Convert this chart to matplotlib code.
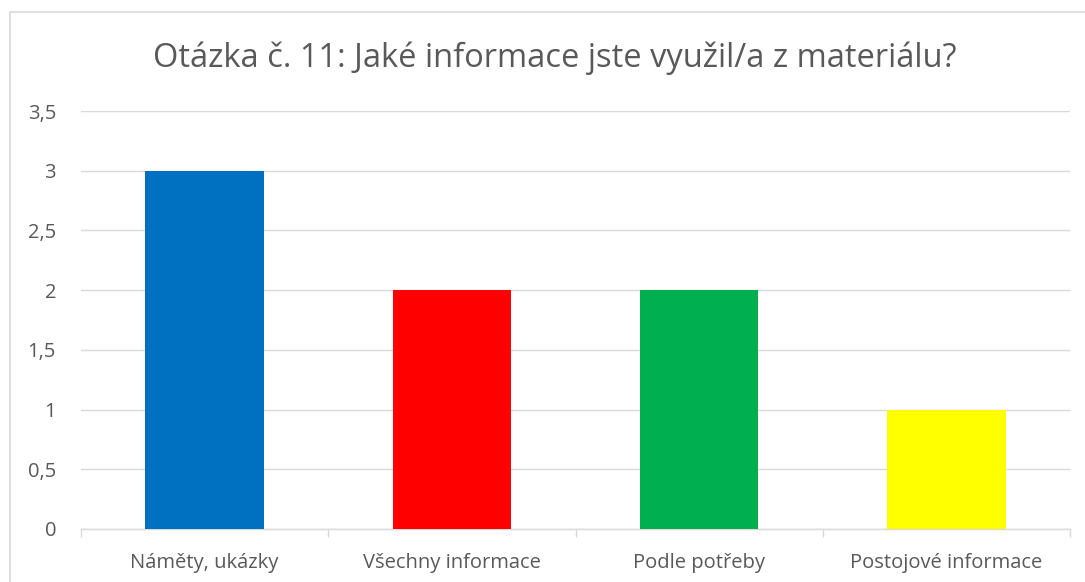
import matplotlib
matplotlib.use("Agg")
import matplotlib.pyplot as plt
from matplotlib.patches import Rectangle
import matplotlib.ticker as mtick

categories = ["Náměty, ukázky", "Všechny informace", "Podle potřeby", "Postojové informace"]
values = [3, 2, 2, 1]
colors = ["#0070C0", "#FF0000", "#00B050", "#FFFF00"]
yticks = [0, 0.5, 1, 1.5, 2, 2.5, 3, 3.5]

plt.rcParams['font.family'] = ['Open Sans', 'DejaVu Sans']

fig = plt.figure(figsize=(10.85, 5.82), dpi=100)
# chart border (right and bottom edges fall outside the image)
fig.patches.append(Rectangle((10 / 1085, -0.01), 1.0, 1 - 12 / 582 + 0.01, transform=fig.transFigure,
                             fill=False, edgecolor="#D9D9D9", linewidth=1.2))

ax = fig.add_axes([81 / 1085, 1 - 529 / 582, (1070 - 81) / 1085, (529 - 111) / 582])
x = range(len(categories))
ax.bar(x, values, width=0.48, color=colors, zorder=3)

ax.set_xlim(-0.5, len(categories) - 0.5)
ax.set_ylim(0, 3.5)
ax.set_yticks(yticks)
ax.yaxis.set_major_formatter(mtick.FuncFormatter(lambda v, p: ("%g" % v).replace(".", ",")))
ax.grid(axis="y", color="#D9D9D9", linewidth=1, zorder=0)
ax.tick_params(axis="y", length=0, pad=18, labelsize=14.5, labelcolor="#595959")

ax.set_xticks([i - 0.5 for i in range(len(categories) + 1)], minor=False)
ax.set_xticklabels([])
ax.set_xticks(list(x), minor=True)
ax.set_xticklabels(categories, minor=True)
ax.tick_params(axis="x", which="major", length=6, color="#D9D9D9", width=1)
ax.tick_params(axis="x", which="minor", length=0, pad=17, labelsize=14.5, labelcolor="#595959")

for s in ["top", "right", "left"]:
    ax.spines[s].set_visible(False)
ax.spines["bottom"].set_color("#D9D9D9")
ax.spines["bottom"].set_linewidth(1)

fig.text(555 / 1085, 1 - 58 / 582, "Otázka č. 11: Jaké informace jste využil/a z materiálu?",
         ha="center", va="center", fontsize=23.5, color="#595959")

fig.savefig("out.png", dpi=100)
